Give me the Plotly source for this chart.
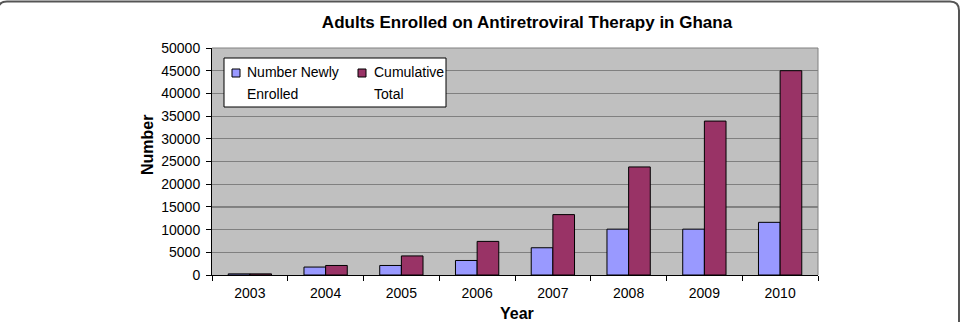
import plotly.graph_objects as go

years = ["2003", "2004", "2005", "2006", "2007", "2008", "2009", "2010"]
newly_enrolled = [250, 1750, 2100, 3200, 6000, 10100, 10100, 11600]
cumulative_total = [250, 2100, 4200, 7400, 13300, 23800, 33900, 45000]
series_names = ["Number Newly Enrolled", "Cumulative Total"]
legend_lines = [["Number Newly", "Enrolled"], ["Cumulative", "Total"]]
series_colors = ["#9999FF", "#993366"]
y_ticks = list(range(0, 50001, 5000))

W, H = 961, 322
L, R, T, B = 212, 818, 48, 275  # plot area in px

def px_x(x):
    return (x - L) / (R - L)

def px_y(y):
    return (B - y) / (B - T)

FONT = "Arial, Liberation Sans, sans-serif"

fig = go.Figure()
for name, vals, col in zip(series_names, [newly_enrolled, cumulative_total], series_colors):
    fig.add_trace(go.Bar(x=years, y=vals, name=name, showlegend=False,
                         marker=dict(color=col, line=dict(color="black", width=1))))

# outer rounded frame
lx, ty, rx, by, rad = -2, 1.5, 959, 340, 9
path = (f"M {px_x(lx)},{px_y(by)} L {px_x(lx)},{px_y(ty+rad)} "
        f"Q {px_x(lx)},{px_y(ty)} {px_x(lx+rad)},{px_y(ty)} "
        f"L {px_x(rx-rad)},{px_y(ty)} "
        f"Q {px_x(rx)},{px_y(ty)} {px_x(rx)},{px_y(ty+rad)} "
        f"L {px_x(rx)},{px_y(by)}")

shapes = [
    dict(type="path", xref="paper", yref="paper", path=path,
         line=dict(color="#555555", width=2), layer="above"),
    # gray top/right plot border
    dict(type="line", xref="paper", yref="paper", x0=0, x1=1, y0=1, y1=1,
         line=dict(color="#808080", width=1), layer="above"),
    dict(type="line", xref="paper", yref="paper", x0=1, x1=1, y0=0, y1=1,
         line=dict(color="#808080", width=1), layer="above"),
    # darker 15000 gridline
    dict(type="line", xref="paper", yref="y", x0=0, x1=1, y0=15000, y1=15000,
         line=dict(color="#222222", width=1), layer="between"),
    # legend box
    dict(type="rect", xref="paper", yref="paper", x0=px_x(224), x1=px_x(446),
         y0=px_y(107), y1=px_y(58), fillcolor="white",
         line=dict(color="black", width=1), layer="above"),
]

annotations = [
    dict(text="<b>Number</b>", xref="paper", yref="paper", x=px_x(147), y=px_y(145),
         textangle=-90, showarrow=False, xanchor="center", yanchor="middle",
         font=dict(family=FONT, size=16, color="black")),
    dict(text="<b>Year</b>", xref="paper", yref="paper", x=px_x(517), y=px_y(313),
         showarrow=False, xanchor="center", yanchor="middle",
         font=dict(family=FONT, size=16, color="black")),
]

# legend entries (symbol + two text lines)
entry_sym_x = [232, 358]
entry_txt_x = [245, 372]
for sx, tx, lines, col in zip(entry_sym_x, entry_txt_x, legend_lines, series_colors):
    shapes.append(dict(type="rect", xref="paper", yref="paper",
                       x0=px_x(sx), x1=px_x(sx + 8), y0=px_y(77), y1=px_y(69),
                       fillcolor=col, line=dict(color="black", width=1), layer="above"))
    for ly, txt in zip([72.5, 94], lines):
        annotations.append(dict(text=txt, xref="paper", yref="paper", x=px_x(tx), y=px_y(ly),
                                showarrow=False, xanchor="left", yanchor="middle",
                                font=dict(family=FONT, size=14, color="black")))

fig.update_layout(
    width=W, height=H,
    margin=dict(l=L, r=W - R, t=T, b=H - B, pad=0),
    paper_bgcolor="white",
    plot_bgcolor="#C0C0C0",
    barmode="group",
    bargap=0.4286,
    bargroupgap=0,
    font=dict(family=FONT, size=14, color="black"),
    title=dict(text="<b>Adults Enrolled on Antiretroviral Therapy in Ghana</b>",
               x=527 / W, xref="container", xanchor="center",
               y=1 - 22.5 / H, yref="container", yanchor="middle",
               font=dict(family=FONT, size=17, color="black")),
    showlegend=False,
    shapes=shapes,
    annotations=annotations,
)

fig.update_xaxes(type="category", tickson="boundaries", ticks="outside", ticklen=5,
                 tickcolor="black", showline=True, linecolor="black", linewidth=1,
                 showgrid=False, ticklabelstandoff=5,
                 tickfont=dict(family=FONT, size=14, color="black"))
fig.update_yaxes(range=[0, 50000], tickvals=y_ticks, ticktext=[str(v) for v in y_ticks],
                 ticks="outside", ticklen=5, tickcolor="black",
                 showline=True, linecolor="black", linewidth=1,
                 showgrid=True, gridcolor="#808080", gridwidth=1, zeroline=False,
                 ticklabelstandoff=3,
                 tickfont=dict(family=FONT, size=14, color="black"))

fig.write_html("out.html")
